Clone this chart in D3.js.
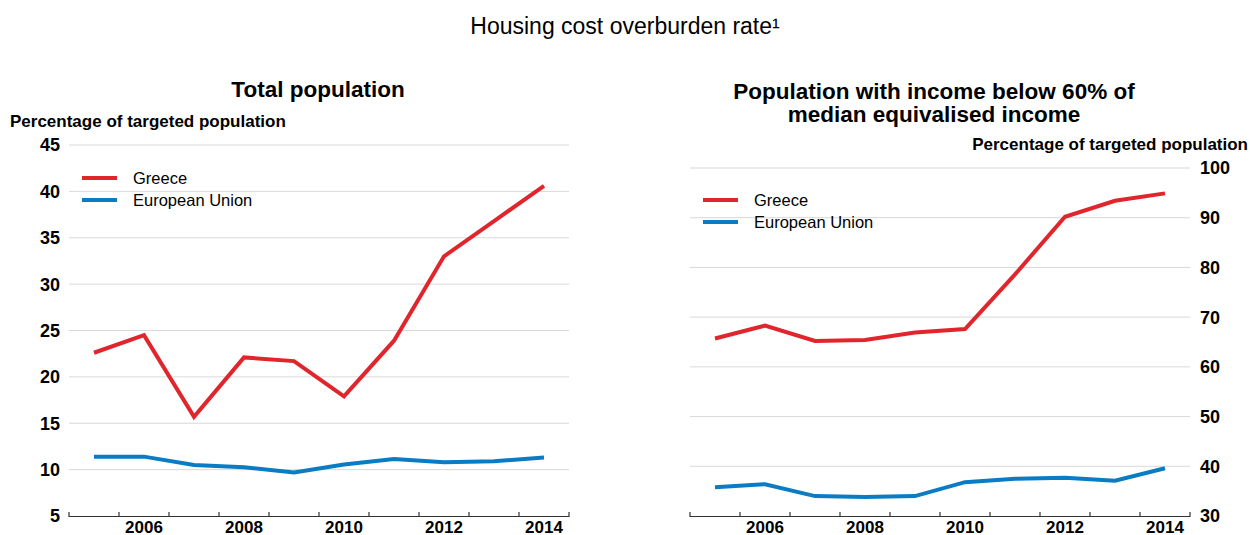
<!DOCTYPE html>
<html>
<head>
<meta charset="utf-8">
<script src="https://cdn.jsdelivr.net/npm/d3@7"></script>
<style>
  html, body { margin: 0; padding: 0; background: #fff; }
  svg { display: block; font-family: "Liberation Sans", Arial, sans-serif; }
</style>
</head>
<body>
<svg id="chart" width="1250" height="535"></svg>
<script>
// ---- Data ----
const years = [2005, 2006, 2007, 2008, 2009, 2010, 2011, 2012, 2013, 2014];
const yearLabels = [2006, 2008, 2010, 2012, 2014];
const seriesNames = ["Greece", "European Union"];
const greeceTotal = [22.6, 24.5, 15.7, 22.1, 21.7, 17.9, 23.9, 33.0, 36.8, 40.6];
const euTotal = [11.4, 11.4, 10.5, 10.25, 9.7, 10.55, 11.15, 10.8, 10.9, 11.3];
const greecePoor = [65.7, 68.3, 65.2, 65.4, 66.9, 67.6, 78.6, 90.2, 93.4, 94.9];
const euPoor = [35.8, 36.4, 34.0, 33.8, 34.0, 36.8, 37.5, 37.7, 37.1, 39.6];
const leftTicks = [5, 10, 15, 20, 25, 30, 35, 40, 45];
const rightTicks = [30, 40, 50, 60, 70, 80, 90, 100];

const colors = { "Greece": "#e1252d", "European Union": "#0a7cc4" };

const svg = d3.select("#chart");

// Main title
svg.append("text")
  .attr("x", 625).attr("y", 34)
  .attr("text-anchor", "middle")
  .attr("font-size", 23)
  .attr("fill", "#000")
  .text("Housing cost overburden rate\u00b9");

function panel(cfg) {
  const g = svg.append("g");
  const x = d3.scaleBand().domain(years).range(cfg.xRange).padding(0);
  const y = d3.scaleLinear().domain(cfg.yDomain).range([516, cfg.yTop]);
  const cx = d => x(d) + x.bandwidth() / 2;

  // gridlines
  g.selectAll(".grid").data(cfg.ticks.filter(t => t !== cfg.yDomain[0]))
    .enter().append("line")
    .attr("x1", cfg.xRange[0]).attr("x2", cfg.xRange[1])
    .attr("y1", d => y(d)).attr("y2", d => y(d))
    .attr("stroke", "#d9d9d9").attr("stroke-width", 1);

  // y tick labels
  g.selectAll(".ylab").data(cfg.ticks).enter().append("text")
    .attr("x", cfg.yLabelX)
    .attr("y", d => y(d))
    .attr("dy", "0.36em")
    .attr("text-anchor", cfg.yAnchor)
    .attr("font-size", 18).attr("font-weight", "bold")
    .attr("fill", "#000")
    .text(d => d);

  // x axis line and ticks
  g.append("line")
    .attr("x1", cfg.xRange[0]).attr("x2", cfg.xRange[1])
    .attr("y1", y(cfg.yDomain[0]) + 0.5).attr("y2", y(cfg.yDomain[0]) + 0.5)
    .attr("stroke", "#333").attr("stroke-width", 1.2);
  const tickPos = years.map(d => x(d)).concat([cfg.xRange[1]]);
  g.selectAll(".xt").data(tickPos).enter().append("line")
    .attr("x1", d => d).attr("x2", d => d)
    .attr("y1", y(cfg.yDomain[0]) - 4).attr("y2", y(cfg.yDomain[0]) + 1)
    .attr("stroke", "#333").attr("stroke-width", 1.2);
  g.selectAll(".xlab").data(yearLabels).enter().append("text")
    .attr("x", d => cx(d))
    .attr("y", 533)
    .attr("text-anchor", "middle")
    .attr("font-size", 17).attr("font-weight", "bold")
    .attr("fill", "#000")
    .text(d => d);

  // lines
  const line = d3.line().x((d, i) => cx(years[i])).y(d => y(d));
  cfg.series.forEach((vals, k) => {
    g.append("path").datum(vals)
      .attr("d", line)
      .attr("fill", "none")
      .attr("stroke", colors[seriesNames[k]])
      .attr("stroke-width", 4)
      .attr("stroke-linejoin", "miter");
  });

  // legend
  seriesNames.forEach((name, k) => {
    const ly = cfg.legendY + k * 22;
    g.append("line")
      .attr("x1", cfg.legendX).attr("x2", cfg.legendX + 35)
      .attr("y1", ly).attr("y2", ly)
      .attr("stroke", colors[name]).attr("stroke-width", 4);
    g.append("text")
      .attr("x", cfg.legendX + 51).attr("y", ly).attr("dy", "0.36em")
      .attr("font-size", 16.5).attr("fill", "#000")
      .text(name);
  });

  // panel title
  cfg.title.forEach((t, i) => {
    g.append("text")
      .attr("x", cfg.titleX).attr("y", cfg.titleY + i * 23)
      .attr("text-anchor", "middle")
      .attr("font-size", 22.5).attr("font-weight", "bold")
      .attr("fill", "#000")
      .text(t);
  });

  // axis title
  g.append("text")
    .attr("x", cfg.axisTitleX).attr("y", cfg.axisTitleY)
    .attr("text-anchor", cfg.axisTitleAnchor)
    .attr("font-size", 17).attr("font-weight", "bold")
    .attr("fill", "#000")
    .text("Percentage of targeted population");
}

panel({
  xRange: [69, 569], yDomain: [5, 45], yTop: 145, ticks: leftTicks,
  yLabelX: 60, yAnchor: "end",
  series: [greeceTotal, euTotal],
  legendX: 82, legendY: 178,
  title: ["Total population"], titleX: 318, titleY: 97,
  axisTitleX: 10, axisTitleY: 127, axisTitleAnchor: "start"
});

panel({
  xRange: [690, 1190], yDomain: [30, 100], yTop: 168, ticks: rightTicks,
  yLabelX: 1200, yAnchor: "start",
  series: [greecePoor, euPoor],
  legendX: 703, legendY: 200,
  title: ["Population with income below 60% of", "median equivalised income"], titleX: 934, titleY: 99,
  axisTitleX: 1248, axisTitleY: 150, axisTitleAnchor: "end"
});
</script>
</body>
</html>
